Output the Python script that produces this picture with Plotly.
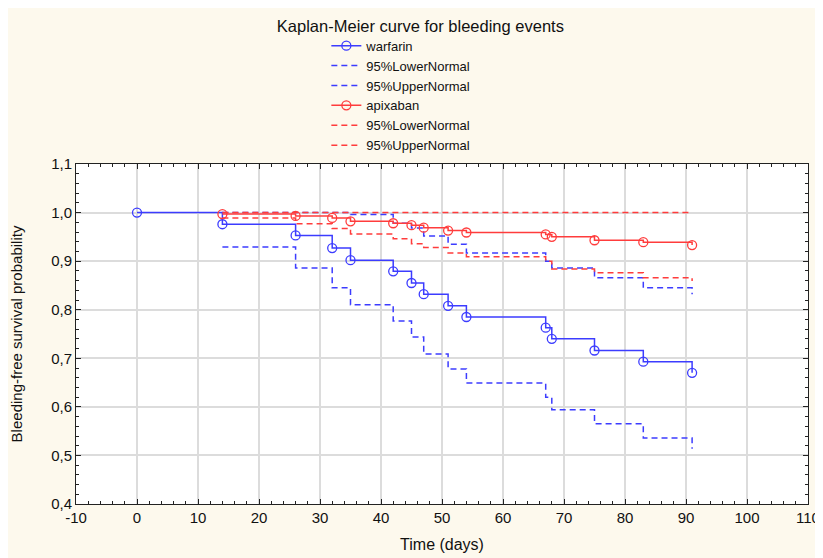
import plotly.graph_objects as go

# ---- data ----
time_warfarin = [0, 14, 26, 32, 35, 42, 45, 47, 51, 54, 67, 68, 75, 83, 91]
surv_warfarin = [1.0, 0.976, 0.953, 0.927, 0.902, 0.879, 0.855, 0.832, 0.808,
                 0.785, 0.763, 0.740, 0.716, 0.693, 0.670]

ci_time = [14, 26, 32, 35, 42, 45, 47, 51, 54, 67, 68, 75, 83, 91]
lower_warfarin = [0.929, 0.886, 0.845, 0.810, 0.777, 0.744, 0.709, 0.678, 0.649,
                  0.620, 0.594, 0.565, 0.536, 0.514]
upper_warfarin = [1.0, 1.0, 1.0, 0.996, 0.978, 0.968, 0.952, 0.935, 0.917,
                  0.900, 0.886, 0.866, 0.845, 0.832]

time_apixaban = [14, 26, 32, 35, 42, 45, 47, 51, 54, 67, 68, 75, 83, 91]
surv_apixaban = [0.997, 0.993, 0.989, 0.982, 0.978, 0.974, 0.969, 0.963, 0.959,
                 0.955, 0.950, 0.943, 0.939, 0.933]
lower_apixaban = [0.989, 0.977, 0.967, 0.956, 0.946, 0.936, 0.928, 0.917, 0.909,
                  0.900, 0.884, 0.876, 0.866, 0.859]
upper_apixaban = [1.0, 1.0, 1.0, 1.0, 1.0, 1.0, 1.0, 1.0, 1.0,
                  1.0, 1.0, 1.0, 1.0, 1.0]

x_tick_vals = [-10, 0, 10, 20, 30, 40, 50, 60, 70, 80, 90, 100, 110]
x_tick_labels = ["-10", "0", "10", "20", "30", "40", "50", "60", "70", "80", "90", "100", "110"]
y_tick_vals = [0.4, 0.5, 0.6, 0.7, 0.8, 0.9, 1.0, 1.1]
y_tick_labels = ["0,4", "0,5", "0,6", "0,7", "0,8", "0,9", "1,0", "1,1"]

BLUE = "#3c3cff"
RED = "#ff3c3c"
FONT = "Liberation Sans, Arial, sans-serif"

fig = go.Figure()

fig.add_trace(go.Scatter(
    x=time_warfarin, y=surv_warfarin, name="warfarin",
    mode="lines+markers", line=dict(color=BLUE, width=1.5, shape="hv"),
    marker=dict(symbol="circle-open", size=9, color=BLUE, line=dict(width=1.3)),
))
fig.add_trace(go.Scatter(
    x=ci_time, y=lower_warfarin, name="95%LowerNormal",
    mode="lines", line=dict(color=BLUE, width=1.5, shape="hv", dash="6px,4px"),
))
fig.add_trace(go.Scatter(
    x=ci_time, y=upper_warfarin, name="95%UpperNormal",
    mode="lines", line=dict(color=BLUE, width=1.5, shape="hv", dash="6px,4px"),
))
fig.add_trace(go.Scatter(
    x=time_apixaban, y=surv_apixaban, name="apixaban",
    mode="lines+markers", line=dict(color=RED, width=1.5, shape="hv"),
    marker=dict(symbol="circle-open", size=9, color=RED, line=dict(width=1.3)),
))
fig.add_trace(go.Scatter(
    x=ci_time, y=lower_apixaban, name="95%LowerNormal",
    mode="lines", line=dict(color=RED, width=1.5, shape="hv", dash="6px,4px"),
))
fig.add_trace(go.Scatter(
    x=ci_time, y=upper_apixaban, name="95%UpperNormal",
    mode="lines", line=dict(color=RED, width=1.5, shape="hv", dash="6px,4px"),
))

axis_common = dict(
    showline=True, linecolor="#222222", linewidth=1, mirror="allticks",
    ticks="inside", ticklen=5, tickcolor="#222222",
    showgrid=True, gridcolor="#dcdcdc", gridwidth=1.5,
    zeroline=False, automargin=False,
    tickfont=dict(family=FONT, size=15, color="#111111"),
)

fig.update_xaxes(
    range=[-10, 110], tickvals=x_tick_vals, ticktext=x_tick_labels,
    minor=dict(dtick=2, ticks="inside", ticklen=3, tickcolor="#222222", showgrid=False),
    title=dict(text="Time (days)", font=dict(family=FONT, size=16, color="#111111"), standoff=13),
    **axis_common,
)
fig.update_yaxes(
    range=[0.4, 1.1], tickvals=y_tick_vals, ticktext=y_tick_labels,
    minor=dict(dtick=0.02, ticks="inside", ticklen=3, tickcolor="#222222", showgrid=False),
    title=dict(text="Bleeding-free survival probability", font=dict(family=FONT, size=15, color="#111111"), standoff=26),
    **axis_common,
)

# the page body adds an 8px offset, so the figure is 8px smaller each way
fig.update_layout(
    width=815, height=550,
    paper_bgcolor="#fdf9ed", plot_bgcolor="#ffffff",
    margin=dict(l=68, r=15, t=156, b=54, autoexpand=False),
    title=dict(text="Kaplan-Meier curve for bleeding events",
               font=dict(family=FONT, size=16.5, color="#111111"),
               x=0.506, xanchor="center", xref="container",
               y=1 - 12 / 550, yanchor="top", yref="container"),
    legend=dict(x=0.342, xanchor="left", xref="paper",
                y=1.392, yanchor="top", yref="paper",
                bgcolor="rgba(0,0,0,0)", tracegroupgap=0,
                font=dict(family=FONT, size=13, color="#111111")),
    showlegend=True,
)

fig.write_html("out.html")
